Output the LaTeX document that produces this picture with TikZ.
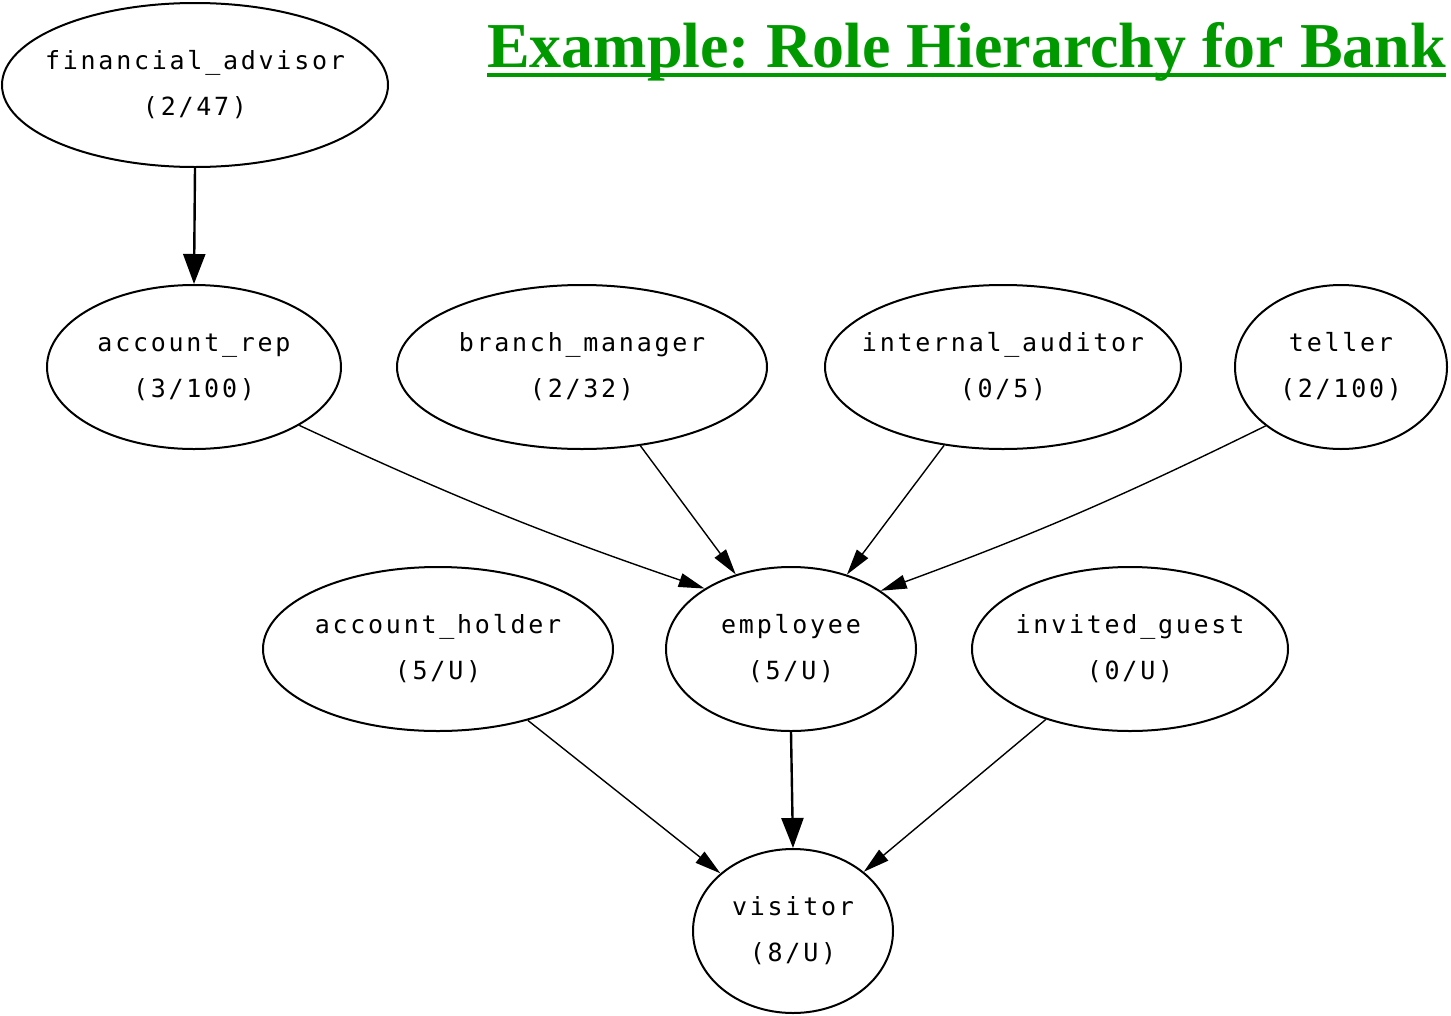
\documentclass[tikz,border=0pt]{standalone}
\usepackage{fontspec}
\setmainfont{Liberation Serif}
\newfontfamily\rolefont[LetterSpace=11]{DejaVu Sans Mono}
\usetikzlibrary{shapes.geometric,arrows.meta,calc}
\definecolor{titlegreen}{RGB}{0,153,0}
\frenchspacing
\begin{document}
\begin{tikzpicture}[x=1pt,y=-1pt,
  role/.style={ellipse, draw, line width=2pt, minimum height=164pt, inner sep=0pt},
  rolelabel/.style={font=\rolefont\fontsize{25}{46}\selectfont, align=center, inner sep=0pt},
  thinedge/.style={line width=1.4pt, -{Triangle[length=26pt,width=14pt]}},
  thickedge/.style={line width=2.4pt, -{Triangle[length=30pt,width=22pt]}}]
\useasboundingbox (0,0) rectangle (1451,1015);

% title
\node[font=\fontsize{64}{70}\selectfont\bfseries, text=titlegreen, anchor=base west, inner sep=0pt]
  (title) at (487,67) {Example: Role Hierarchy for Bank};
\fill[titlegreen] ($(title.base west)+(0,6)$) rectangle ($(title.base east)+(0,10)$);

% roles
\node[role, minimum width=386pt, label={[rolelabel]center:financial\_advisor\\(2/47)}] (fa) at (195,85) {};
\node[role, minimum width=294pt, label={[rolelabel]center:account\_rep\\(3/100)}] (ar) at (194,367) {};
\node[role, minimum width=370pt, label={[rolelabel]center:branch\_manager\\(2/32)}] (bm) at (582,367) {};
\node[role, minimum width=356pt, label={[rolelabel]center:internal\_auditor\\(0/5)}] (ia) at (1003,367) {};
\node[role, minimum width=212pt, label={[rolelabel]center:teller\\(2/100)}] (te) at (1341,367) {};
\node[role, minimum width=350pt, label={[rolelabel]center:account\_holder\\(5/U)}] (ah) at (438,649) {};
\node[role, minimum width=250pt, label={[rolelabel]center:employee\\(5/U)}] (emp) at (791,649) {};
\node[role, minimum width=316pt, label={[rolelabel]center:invited\_guest\\(0/U)}] (ig) at (1130,649) {};
\node[role, minimum width=200pt, label={[rolelabel]center:visitor\\(8/U)}] (vis) at (793,931) {};

% inheritance edges
\draw[thickedge] (fa.south) -- (ar.north);
\draw[thinedge] (ar.-29) to[bend right=3] (emp.145);
\draw[thinedge] (bm) -- (emp);
\draw[thinedge] (ia) -- (emp);
\draw[thinedge] (te.-142) to[bend left=3] (emp.33);
\draw[thinedge] (ah) -- (vis);
\draw[thickedge] (emp.south) -- (vis.north);
\draw[thinedge] (ig) -- (vis);
\end{tikzpicture}
\end{document}
